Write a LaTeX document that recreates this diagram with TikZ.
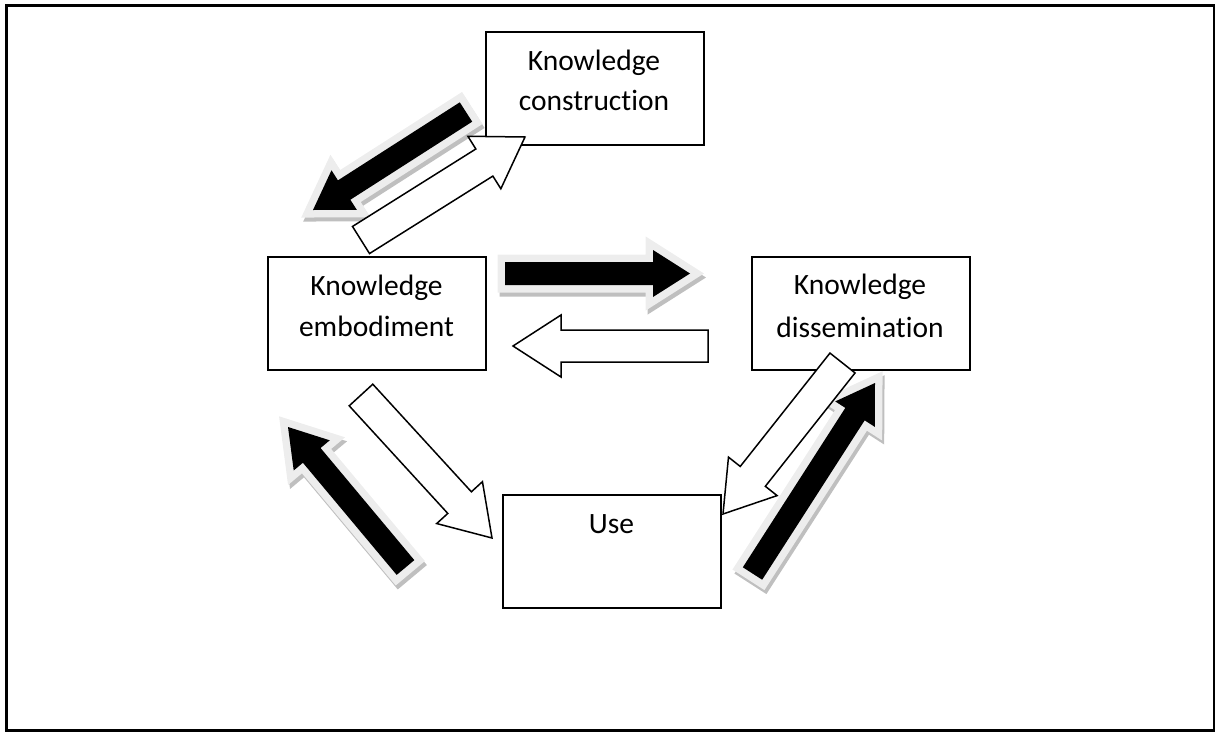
\documentclass[tikz,border=0pt]{standalone}
\usepackage{fontspec}
\setmainfont{Carlito}[Ligatures=NoCommon]
\usetikzlibrary{calc}
\tikzset{
  box/.style={draw, line width=1.6pt, rectangle, inner sep=0pt, anchor=north west,
              minimum width=218pt, minimum height=113pt},
  lbl/.style={anchor=base, inner sep=0pt, font=\fontsize{29.5}{35}\selectfont},
  whitearr/.style={fill=white, draw=black, line width=1.5pt, line join=miter},
  glowarr/.style={fill=black!7, draw=black!7, line width=15pt, line join=miter},
  shadowarr/.style={fill=black!25, draw=black!25, line width=15pt, line join=miter},
  blackarr/.style={fill=black},
}
\newcommand\arrowshape[4]{%
  \path[#4] ($(#1-tail)!#2!90:(#1-tip)$) -- ($(#1-b)!#2!90:(#1-tip)$)
    -- ($(#1-b)!#3!90:(#1-tip)$) -- (#1-tip) -- ($(#1-b)!#3!-90:(#1-tip)$)
    -- ($(#1-b)!#2!-90:(#1-tip)$) -- ($(#1-tail)!#2!-90:(#1-tip)$) -- cycle;}
\newcommand\arrowends[4]{%
  \coordinate (#1-tail) at (#2);
  \coordinate (#1-tip) at (#3);
  \coordinate (#1-b) at ($(#1-tip)!#4!(#1-tail)$);}
\newcommand\blackarrow[1]{%
  \begin{scope}[transform canvas={shift={(2pt,-4pt)}}]
    \arrowshape{#1}{11.5pt}{23.5pt}{shadowarr}
  \end{scope}
  \arrowshape{#1}{11.5pt}{23.5pt}{glowarr}
  \arrowshape{#1}{11.5pt}{23.5pt}{blackarr}}
\newcommand\whitearrow[1]{\arrowshape{#1}{16pt}{31pt}{whitearr}}
\begin{document}
\begin{tikzpicture}[x=1pt,y=-1pt]
\useasboundingbox (0,0) rectangle (1215,731);
% outer frame
\draw[line width=3.3pt] (6.6,5.6) rectangle (1215,731);

% boxes
\node[box] (kc) at (485,31) {};
\node[box] (ke) at (267,256) {};
\node[box] (kd) at (751,256) {};
\node[box] (use) at (502,494) {};

% labels
\node[lbl] (kc1) at (594,70) {Knowledge};
\node[lbl] (kc2) at (594,110) {construction};
\node[lbl] (ke1) at (376.5,295) {Knowledge};
\node[lbl] (ke2) at (376.5,336) {embodiment};
\node[lbl] (kd1) at (860,294) {Knowledge};
\node[lbl] (kd2) at (860,337) {dissemination};
\node[lbl] (use1) at (611.5,533) {Use};

% arrow end points
\arrowends{a1}{466,112}{313,210}{37pt}
\arrowends{a2}{361,240}{525,137}{48pt}
\arrowends{a3}{505,273.5}{690,273.5}{37pt}
\arrowends{a4}{708,346}{513,346}{48pt}
\arrowends{a5}{361,395}{492,538}{48pt}
\arrowends{a6}{405.5,567.5}{288,427}{37pt}
\arrowends{a7}{842.5,363}{723,514}{48pt}
\arrowends{a8}{752.5,573.5}{875,383}{37pt}

% black arrows with glow
\blackarrow{a1}
\blackarrow{a3}
\blackarrow{a6}
\blackarrow{a8}

% white arrows
\whitearrow{a2}
\whitearrow{a4}
\whitearrow{a5}
\whitearrow{a7}
\end{tikzpicture}
\end{document}
